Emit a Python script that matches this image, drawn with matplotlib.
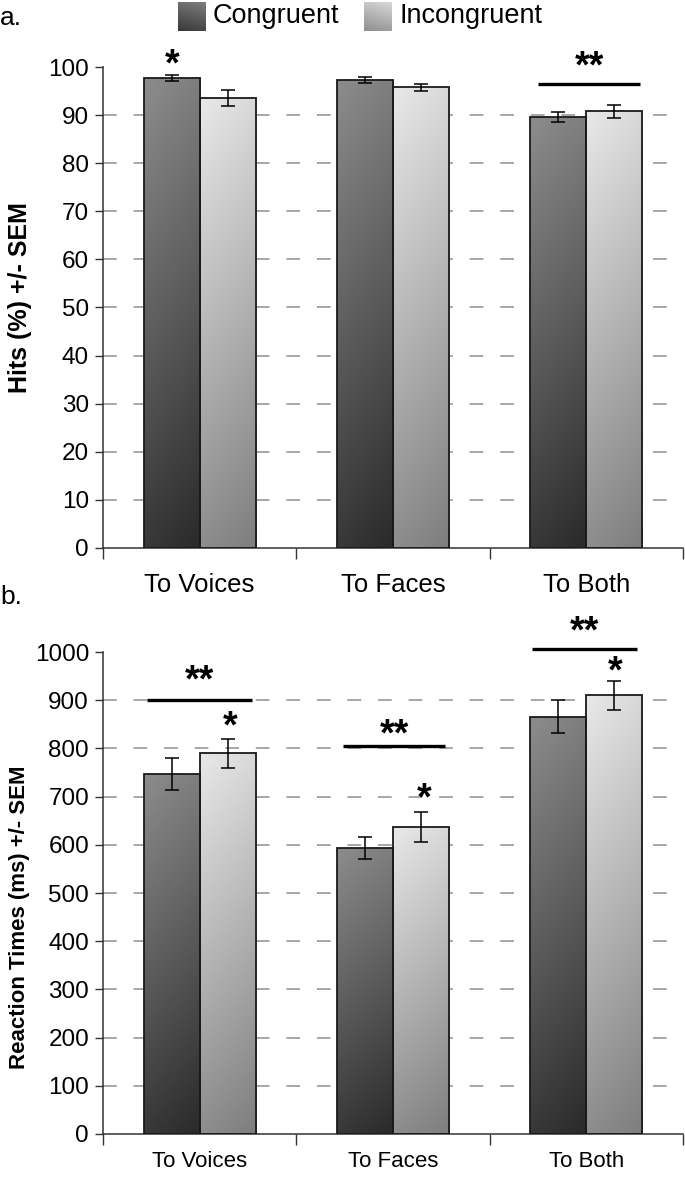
import numpy as np
import matplotlib
matplotlib.use("Agg")
import matplotlib.pyplot as plt
from matplotlib import font_manager

names = {f.name for f in font_manager.fontManager.ttflist}
BASE = "Liberation Sans" if "Liberation Sans" in names else "DejaVu Sans"
NARROW = "Liberation Sans Narrow" if "Liberation Sans Narrow" in names else BASE
plt.rcParams['font.family'] = [BASE, 'DejaVu Sans']

# ---------------- data ----------------
categories_a = ["To Voices", "To Faces", "To Both"]
categories_b = ["To Voices", "To Faces", "To Both"]
series = ["Congruent", "Incongruent"]

hits_cong = [97.7, 97.3, 89.6]
hits_cong_err = [0.7, 0.7, 1.1]
hits_incong = [93.5, 95.8, 90.8]
hits_incong_err = [1.7, 0.7, 1.4]

rt_cong = [747, 593, 866]
rt_cong_err = [34, 23, 35]
rt_incong = [790, 637, 910]
rt_incong_err = [30, 31, 30]

# significance annotations: (x_start, x_end, y_line, y_text) and single stars (x, y)
sig_a_lines = [(2.25, 2.78, 96.4, 101.9)]
sig_a_stars = [(0.36, 102.4)]
sig_b_lines = [(0.23, 0.77, 900, 958), (1.24, 1.77, 805, 846), (2.22, 2.76, 1006, 1060)]
sig_b_stars = [(0.66, 863), (1.66, 714), (2.65, 977)]

W, H = 685, 1179
fig = plt.figure(figsize=(W / 100, H / 100), dpi=100)

BW = 0.29
cmap_c = matplotlib.colors.LinearSegmentedColormap.from_list("c", ["#2a2a2a", "#8c8c8c"])
cmap_i = matplotlib.colors.LinearSegmentedColormap.from_list("i", ["#7e7e7e", "#e8e8e8"])


def grad_img(n=64):
    yy, xx = np.mgrid[0:1:n * 1j, 0:1:n * 1j]
    return 0.85 * yy + 0.15 * (1 - xx)


def gradient_bar(ax, x0, width, height, cmap):
    rect = plt.Rectangle((x0, 0), width, height, facecolor="none",
                         edgecolor="#1a1a1a", linewidth=1.3, zorder=3)
    ax.add_patch(rect)
    im = ax.imshow(grad_img(), cmap=cmap, extent=(x0, x0 + width, 0, height),
                   origin="lower", aspect="auto", zorder=2, interpolation="bilinear",
                   vmin=0, vmax=1)
    im.set_clip_path(rect)


def panel(ax, cong, cong_err, incong, incong_err, ymax, step, cats, fam, lines, stars,
          labsize, star_dy, lab_y):
    x = np.arange(len(cats)) + 0.5
    for i in range(len(cats)):
        gradient_bar(ax, x[i] - BW, BW, cong[i], cmap_c)
        gradient_bar(ax, x[i], BW, incong[i], cmap_i)
    ax.errorbar(x - BW / 2, cong, yerr=cong_err, fmt="none", ecolor="black",
                elinewidth=1.1, capsize=5, capthick=1.1, zorder=4)
    ax.errorbar(x + BW / 2, incong, yerr=incong_err, fmt="none", ecolor="black",
                elinewidth=1.1, capsize=5, capthick=1.1, zorder=4)
    ax.set_xlim(0, len(cats))
    ax.set_ylim(0, ymax)
    ax.set_yticks(np.arange(0, ymax + step / 2, step))
    for v in np.arange(step, ymax - step / 2, step):
        ax.axhline(v, color="#8f8f8f", linewidth=1.1, dashes=(9, 11), zorder=1)
    ax.set_xticks(np.arange(len(cats) + 1))
    ax.set_xticklabels([])
    ax.tick_params(axis="x", direction="out", length=8, width=1, color="#333333")
    ax.tick_params(axis="y", direction="out", length=6, width=1, color="#333333",
                   labelsize=17.5, pad=4)
    for lab in ax.get_yticklabels():
        lab.set_family([fam, 'DejaVu Sans'])
    for s in ["top", "right"]:
        ax.spines[s].set_visible(False)
    for s in ["left", "bottom"]:
        ax.spines[s].set_color("#333333")
        ax.spines[s].set_linewidth(1.1)
    for xi, c in zip(x, cats):
        ax.text(xi, lab_y * ymax, c, ha="center", va="center", fontsize=labsize,
                family=[fam, 'DejaVu Sans'], clip_on=False)
    for (x0, x1, yl, yt) in lines:
        ax.plot([x0, x1], [yl, yl], color="black", linewidth=2.4, zorder=5,
                clip_on=False, solid_capstyle="butt")
        ax.text((x0 + x1) / 2, yt - star_dy, "**", ha="center", va="center", fontsize=27,
                fontweight="bold", clip_on=False)
    for (xs, ys) in stars:
        ax.text(xs, ys - star_dy, "*", ha="center", va="center", fontsize=27,
                fontweight="bold", clip_on=False)


axA = fig.add_axes([103 / W, 1 - 548 / H, 580 / W, (548 - 67) / H])
panel(axA, hits_cong, hits_cong_err, hits_incong, hits_incong_err, 100, 10,
      categories_a, BASE, sig_a_lines, sig_a_stars, 18.5, 2.0, -0.077)
axA.set_ylabel("Hits (%) +/- SEM", fontsize=18, fontweight="bold")
axA.yaxis.set_label_coords(-0.123, 0.52)

axB = fig.add_axes([103 / W, 1 - 1134 / H, 580 / W, (1134 - 652) / H])
panel(axB, rt_cong, rt_cong_err, rt_incong, rt_incong_err, 1000, 100,
      categories_b, NARROW, sig_b_lines, sig_b_stars, 16, 20, -0.058)
axB.set_ylabel("Reaction Times (ms) +/- SEM", fontsize=16, fontweight="bold",
               family=[NARROW, 'DejaVu Sans'])
axB.yaxis.set_label_coords(-0.126, 0.45)

# panel letters
fig.text(0 / W, 1 - 18 / H, "a.", fontsize=19, va="center", ha="left")
fig.text(0 / W, 1 - 597 / H, "b.", fontsize=19, va="center", ha="left")

# legend
for (x0, cmap, lab) in [(178, cmap_c, series[0]), (364, cmap_i, series[1])]:
    sw = fig.add_axes([x0 / W, 1 - 31 / H, 28 / W, 29 / H])
    g = grad_img()
    sw.imshow(0.7 * g + 0.3 * g.T, cmap=cmap, origin="lower", aspect="auto", vmin=0, vmax=1)
    sw.set_axis_off()
    fig.text((x0 + 35) / W, 1 - 16 / H, lab, fontsize=19.5, va="center", ha="left")

fig.savefig("out.png", dpi=100)
